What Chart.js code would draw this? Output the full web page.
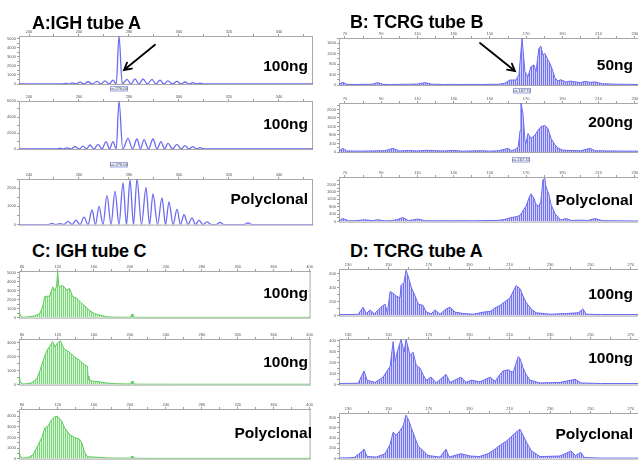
<!DOCTYPE html>
<html><head><meta charset="utf-8">
<script src="https://cdn.jsdelivr.net/npm/chart.js@4.4.1/dist/chart.umd.min.js"></script>
<style>
html,body{margin:0;padding:0;background:#fff;width:638px;height:461px;overflow:hidden;position:relative;font-family:"Liberation Sans",Arial,sans-serif;}
canvas{position:absolute;}
.t{position:absolute;font-weight:bold;white-space:nowrap;color:#000;z-index:5;}
.title{font-size:18px;line-height:18px;letter-spacing:-0.2px}
.lab{font-size:15.5px;line-height:15.5px;text-align:right;left:0}
</style></head><body>
<div class="t title" style="left:32px;top:13.8px">A:IGH tube A</div>
<div class="t title" style="left:350px;top:13.1px">B: TCRG tube B</div>
<div class="t title" style="left:32px;top:241.8px">C: IGH tube C</div>
<div class="t title" style="left:350px;top:241.8px">D: TCRG tube A</div>
<div class="t lab" style="width:308px;top:57.9px">100ng</div>
<div class="t lab" style="width:308px;top:115.9px">100ng</div>
<div class="t lab" style="width:308px;top:190.9px">Polyclonal</div>
<div class="t lab" style="width:633px;top:56.9px">50ng</div>
<div class="t lab" style="width:633px;top:113.9px">200ng</div>
<div class="t lab" style="width:633px;top:191.9px">Polyclonal</div>
<div class="t lab" style="width:308px;top:284.9px">100ng</div>
<div class="t lab" style="width:308px;top:353.9px">100ng</div>
<div class="t lab" style="width:312px;top:424.9px">Polyclonal</div>
<div class="t lab" style="width:633px;top:285.9px">100ng</div>
<div class="t lab" style="width:633px;top:349.9px">100ng</div>
<div class="t lab" style="width:633px;top:425.9px">Polyclonal</div>
<script>
// ---- Panel A: IGH tube A (size in bp, fluorescence) ----
const aTopX=[236,250,253.2,254.8,256,257.2,258.8,260.4,262,263.6,265.4,267.2,268.8,270.4,272,273.6,274.9,276,277.3,279.2,280.8,282.4,284,285.6,287.4,289.2,290.8,292.4,294,295.6,297.4,299.2,300.8,302.4,304,305.6,307,308.4,310,320,353.6];
const aTopY=[0,0,0,80,0,120,0,200,0,250,0,300,0,350,0,420,0,5300,0,500,0,560,0,550,0,500,0,420,0,350,0,280,0,220,0,150,0,90,0,0,0];
const aMidX=[236,250,251,252.4,253.8,255.2,256.8,258.4,260,261.6,263,264.4,266,267.6,269.2,270.8,272.2,273.6,274.9,276,277.5,279.6,281.4,283.2,284.6,286,287.8,289.6,291.2,292.8,294.2,295.6,297.4,299.2,300.8,302.4,304,305.6,307,308.4,310,320,353.6];
const aMidY=[0,0,0,100,0,150,0,290,0,350,0,500,0,580,0,920,0,920,0,6000,0,1330,0,1250,0,1170,0,1250,0,920,0,710,0,580,0,420,0,290,0,170,0,0,0];
const aPolyX=[236,246,247.6,249.2,250.8,252.4,254,255.6,257.2,258.8,260.4,262,263.6,265.2,266.6,268,269.6,271.2,272.8,274.4,276,277.6,279,280.4,281.8,283.2,285,286.8,288.2,289.6,291.4,293.2,294.6,296,297.6,299.2,300.6,302,303.6,305.2,306.6,308,309.6,311.2,313,314.8,316.4,318,326,327.6,329.2,353.6];
const aPolyY=[0,0,0,70,0,50,0,180,0,240,0,410,0,800,0,1000,0,1600,0,1820,0,2280,0,2450,0,2480,0,2020,0,1680,0,1460,0,1250,0,830,0,540,0,370,0,240,0,150,0,0,120,0,0,100,0,0];
// ---- Panel B: TCRG tube B ----
const bTopX=[66.7,68.9,71,75,80,85,88.2,91,95,100,105,110,114.1,118,125,130,135,140,145,150,155,158.3,161,164.3,166,167.7,169.3,171,172.6,174.3,175.4,177,178.1,179.2,180.3,182,183.1,184.8,185.9,187.5,189.2,191.9,194,196.9,200,202.4,205.2,207.9,212,220,233.9];
const bTopY=[40,100,25,20,25,30,90,25,20,25,30,35,90,30,20,25,20,25,20,25,30,70,190,190,400,1780,510,320,700,770,510,1400,1490,1150,1210,960,830,510,260,160,200,110,150,120,90,140,100,120,50,30,20];
const bMidX=[66.7,68.9,71,78,85,92,96.5,100,105,110,115,120,125,130,135,140,145,150,155,159.9,162,164,165.6,166.6,167.1,168.2,169.3,169.9,171,172.6,174.8,176.5,178.1,180.3,182,183.7,185.9,187.5,190,195,200,205.2,208,215,225,233.9];
const bMidY=[60,170,50,40,50,60,170,50,70,50,80,60,50,70,40,50,60,40,60,170,60,120,250,1000,2300,1800,560,400,870,640,790,1020,1180,1250,1100,640,330,190,90,70,60,170,60,50,40,40];
const bPolyX=[66.7,68.9,72,76,81,85,88.2,92,96,99.2,102,105,110.3,114,120,125,130,135,140,145,150,155,158.3,161,163.8,166.6,168.2,169.9,172.1,172.6,174.3,175.4,177,178.1,179.2,180.3,180.8,182.6,183.7,185.9,187.5,189.2,191.9,195,200,204,207.9,212,220,233.9];
const bPolyY=[50,165,40,50,100,50,100,40,50,120,220,50,140,50,40,50,40,50,40,50,60,70,120,200,250,330,583,830,1420,1500,1250,920,830,1080,2250,2330,1920,1420,920,420,250,80,165,60,80,60,165,50,40,30];
// ---- Panel C: IGH tube C ----
const cTopX=[76.7,78,80,83.3,88.8,94.3,99.9,103,105.4,110.9,114.2,116.4,118.5,119.7,121,121.9,125.3,129.7,133,136.3,140.7,144,147.3,151.7,155,160.6,166.1,173.8,182.6,200,201.5,202.5,203.5,210,250,300,350,401];
const cTopY=[800,300,50,50,100,200,450,1200,2360,2400,3430,3000,3500,5100,3500,3430,3600,3080,3250,2360,2190,1850,1500,1160,800,450,300,100,50,40,200,400,50,30,30,30,30,30];
const cMidX=[76.7,78,80,85,91,96.6,99.9,103.2,107.6,110.9,114.2,116.5,119.7,123,125,127.5,133,138.5,144,149.5,152.8,153.5,154.5,158.4,166.1,173.8,185,200,201.5,202.5,203.5,210,250,300,350,401];
const cMidY=[670,250,40,60,130,420,980,1650,2420,2750,3090,2700,3000,3130,2800,2530,2310,1980,1750,1420,1310,600,330,250,200,120,60,40,150,250,40,30,25,25,25,25];
const cPolyX=[76.7,78,80,86.6,92.1,97.7,102.1,105.4,108.7,113.1,116.4,119.7,124.2,127.5,133,138.5,144,147,149.5,152.8,158,166,175,200,201.5,202.5,203.5,210,250,300,350,401];
const cPolyY=[770,250,40,100,340,1250,2000,2900,3060,3670,3970,4000,3550,2900,2300,2000,1850,1400,640,180,150,120,60,40,150,250,40,30,25,25,25,25];
// ---- Panel D: TCRG tube A ----
const dTopX=[125.5,135,137.4,139,140.9,143,146.3,148.3,149.5,150.8,152.3,153.8,155.7,156.2,157.7,158.7,160.2,161.2,163.2,164.7,167.1,168.6,171.1,173.1,175.5,178.5,180.5,183,187,192,197,200.3,202.8,205.2,207.7,210.2,211.7,213.2,215.1,216.6,218.1,220.6,223.1,230,238,244,246.3,247.8,255,265,275.5];
const dTopY=[15,17,120,30,80,25,120,165,40,345,320,280,255,430,475,650,520,410,280,165,145,55,25,80,20,95,120,50,30,20,50,60,110,145,200,255,345,430,385,280,190,95,40,20,30,40,95,20,15,15,15];
const dMidX=[125.5,135,137.9,139.4,143.4,147.3,150.8,152.3,153.3,154.3,156.2,157.7,158.7,160.7,162.2,163.7,165.6,167.1,168.6,171.1,173.6,178.5,180.5,185.9,188.4,190.9,195.3,200.3,202.8,205.2,206.7,209.2,211.7,214.2,215.1,216.6,218.1,220.1,225,234.9,242.4,245.3,255,275.5];
const dMidY=[10,12,125,40,20,68,167,393,212,297,412,297,412,267,297,179,150,93,40,68,15,93,20,68,20,40,25,68,30,93,125,135,110,255,240,155,93,40,15,20,48,15,10,10];
const dPolyX=[125.5,133,136.4,137.9,139.4,144,148.3,150.8,152.3,153.8,155.7,157.2,158.7,160.2,161.2,163.2,164.7,167.1,169.6,175.5,178.5,180,185.9,190.4,195,199.3,202.8,205.7,208.2,210.7,213.2,215.1,216.6,218.1,220.6,225,234.9,240.4,242.5,245.3,247,255,275.5];
const dPolyY=[10,20,125,185,40,30,95,275,515,455,545,635,850,730,610,400,245,155,60,30,185,30,95,50,40,95,185,275,335,425,515,575,455,335,155,40,50,150,60,120,20,10,10];
// ---- axis ranges / tick labels ----
const xRangeA=[236,353.6], xRangeB=[66.7,233.9], xRangeC=[76.7,401], xRangeD=[125.5,275.5];
const xTickLabelsA=[240,260,280,300,320,340];
const xTickLabelsB=[70,90,110,130,150,170,190,210,230];
const xTickLabelsC=[80,120,160,200,240,280,320,360,400];
const xTickLabelsD=[130,150,170,190,210,230,250,270];
const yTicksA1=[0,1000,2000,3000,4000,5000], yTicksA2=[0,2000,4000,6000], yTicksA3=[0,1000,2000];
const yTicksB1=[0,400,800,1200,1600], yTicksB2=[0,400,800,1200,1600,2000], yTicksB3=[0,400,800,1200,1600,2000];
const yTicksC1=[0,1000,2000,3000,4000,5000], yTicksC2=[0,1000,2000,3000], yTicksC3=[0,1000,2000,3000,4000];
const yTicksD1=[0,200,400,600], yTicksD2=[0,100,200,300,400], yTicksD3=[0,200,400,600,800];
// peak size-call boxes and arrows
const peakCallX=[276,276,167.7,167.1];
const peakCallText=["276.04","276.04","167.72","167.15"];
const arrowA=[290.4,4330,278,1550]; // tail x,y -> tip x,y
const arrowB=[144.5,1610,163.8,536];

const BLUE='#6c6cf0', GREEN='#5ccc5c';
function stripes(c1,c2,w){
  const pc=document.createElement('canvas');pc.width=w;pc.height=4;
  const g=pc.getContext('2d');g.fillStyle=c2;g.fillRect(0,0,w,4);g.fillStyle=c1;g.fillRect(0,0,1,4);
  return g.createPattern(pc,'repeat');
}
const BLUEF=stripes('rgba(100,100,238,0.85)','rgba(150,150,246,0.45)',2);
const GREENF=stripes('rgba(95,205,95,0.8)','rgba(175,235,175,0.45)',2);

const extras={
  id:'extras',
  beforeDatasetsDraw(chart){
    const a=chart.chartArea, c=chart.ctx;
    c.save();c.strokeStyle='#a8a8a8';c.lineWidth=1;
    c.strokeRect(a.left+0.5,a.top+0.5,a.right-a.left-1,a.bottom-a.top);
    c.restore();
  },
  afterDraw(chart){
    const o=chart.options.plugins.extras||{}, c=chart.ctx, xs=chart.scales.x, ys=chart.scales.y, a=chart.chartArea;
    if(o.box){
      const px=xs.getPixelForValue(o.box.x), y=a.bottom+o.box.off;
      c.save();c.fillStyle='#eef1fb';c.strokeStyle='#8c9ad6';c.lineWidth=0.8;
      c.fillRect(px-9,y,18,5.5);c.strokeRect(px-9+0.5,y+0.5,17,4.5);
      c.fillStyle='#445';c.font='4px "Liberation Sans",Arial';c.textAlign='center';c.textBaseline='middle';
      c.fillText('ca '+o.box.t,px,y+3);c.restore();
    }
    if(o.arrow){
      const [tx,ty,hx,hy]=o.arrow;
      const x1=xs.getPixelForValue(tx),y1=ys.getPixelForValue(ty),x2=xs.getPixelForValue(hx),y2=ys.getPixelForValue(hy);
      const ang=Math.atan2(y2-y1,x2-x1),L=8,w=0.5;
      c.save();c.strokeStyle='#000';c.lineWidth=1.8;c.lineCap='round';
      c.beginPath();c.moveTo(x1,y1);c.lineTo(x2,y2);
      c.moveTo(x2-L*Math.cos(ang-w),y2-L*Math.sin(ang-w));c.lineTo(x2,y2);c.lineTo(x2-L*Math.cos(ang+w),y2-L*Math.sin(ang+w));
      c.stroke();c.restore();
    }
  }
};

function withHalves(labels,lo,hi){
  const st=labels[1]-labels[0], out=[];
  labels.forEach(v=>{out.push(v); if(v+st/2<=hi) out.push(v+st/2);});
  if(labels[0]-st/2>=lo) out.unshift(labels[0]-st/2);
  return out;
}

function panel(p){
  const [l,t,r,b]=p.plot, yw=16, xh=8, pad=p.pad||0;
  const cv=document.createElement('canvas');
  const left=l-yw, top=t-xh, W=r-left, H=b-top+pad;
  cv.width=W;cv.height=H;cv.style.left=left+'px';cv.style.top=top+'px';
  document.body.appendChild(cv);
  const lineC=p.green?GREEN:BLUE, fillC=p.green?GREENF:BLUEF;
  const xT=withHalves(p.xl,p.xr[0],p.xr[1]);
  const yT=withHalves(p.yt,0,p.ymax);
  new Chart(cv,{
    type:'line',
    data:{datasets:[{data:p.x.map((v,i)=>({x:v,y:p.y[i]})),borderColor:lineC,backgroundColor:fillC,
      borderWidth:p.fill?1:1.3,fill:p.fill?'origin':false,pointRadius:0,tension:0,
      cubicInterpolationMode:p.fill?'default':'monotone'}]},
    options:{responsive:false,animation:false,events:[],
      layout:{padding:{left:0,right:0,top:0,bottom:pad}},
      plugins:{legend:{display:false},tooltip:{enabled:false},extras:{box:p.box,arrow:p.arrow}},
      scales:{
        x:{type:'linear',position:'top',min:p.xr[0],max:p.xr[1],
          afterFit(s){s.height=xh;},
          afterBuildTicks(s){s.ticks=xT.map(v=>({value:v}));},
          border:{display:true,color:'#9c9c9c'},
          grid:{drawOnChartArea:false,drawTicks:true,tickLength:2,color:'#9c9c9c'},
          ticks:{autoSkip:false,maxRotation:0,padding:0,font:{size:4},color:'#555',
            callback:v=>p.xl.includes(v)?String(v):''}},
        y:{type:'linear',position:'left',min:0,max:p.ymax,
          afterFit(s){s.width=yw;},
          afterBuildTicks(s){s.ticks=yT.map(v=>({value:v}));},
          border:{display:true,color:'#9c9c9c'},
          grid:{drawOnChartArea:false,drawTicks:true,tickLength:2,color:'#9c9c9c'},
          ticks:{autoSkip:false,padding:1,font:{size:4},color:'#555',
            callback:v=>p.yt.includes(v)?String(v):''}}
      }},
    plugins:[extras]
  });
}

panel({plot:[19,36,313,84],x:aTopX,y:aTopY,xr:xRangeA,xl:xTickLabelsA,ymax:5300,yt:yTicksA1,pad:8,box:{x:peakCallX[0],t:peakCallText[0],off:2},arrow:arrowA});
panel({plot:[19,101,313,149],x:aMidX,y:aMidY,xr:xRangeA,xl:xTickLabelsA,ymax:6000,yt:yTicksA2,pad:20,box:{x:peakCallX[1],t:peakCallText[1],off:13}});
panel({plot:[19,179,313,228],x:aPolyX,y:aPolyY,xr:xRangeA,xl:xTickLabelsA,ymax:2500,yt:yTicksA3});
panel({plot:[339,38,642,85],x:bTopX,y:bTopY,xr:xRangeB,xl:xTickLabelsB,ymax:1800,yt:yTicksB1,fill:true,pad:9,box:{x:peakCallX[2],t:peakCallText[2],off:3},arrow:arrowB});
panel({plot:[339,103,642,152],x:bMidX,y:bMidY,xr:xRangeB,xl:xTickLabelsB,ymax:2300,yt:yTicksB2,fill:true,pad:12,box:{x:peakCallX[3],t:peakCallText[3],off:5}});
panel({plot:[339,177,642,225],x:bPolyX,y:bPolyY,xr:xRangeB,xl:xTickLabelsB,ymax:2400,yt:yTicksB3,fill:true});
panel({plot:[19,271,313,321],x:cTopX,y:cTopY,xr:xRangeC,xl:xTickLabelsC,ymax:5200,yt:yTicksC1,fill:true,green:true});
panel({plot:[19,339,313,388],x:cMidX,y:cMidY,xr:xRangeC,xl:xTickLabelsC,ymax:3270,yt:yTicksC2,fill:true,green:true});
panel({plot:[19,409,313,462],x:cPolyX,y:cPolyY,xr:xRangeC,xl:xTickLabelsC,ymax:4700,yt:yTicksC3,fill:true,green:true});
panel({plot:[339,269,642,319],x:dTopX,y:dTopY,xr:xRangeD,xl:xTickLabelsD,ymax:667,yt:yTicksD1,fill:true});
panel({plot:[339,339,642,388],x:dMidX,y:dMidY,xr:xRangeD,xl:xTickLabelsD,ymax:417,yt:yTicksD2,fill:true});
panel({plot:[339,413,642,462],x:dPolyX,y:dPolyY,xr:xRangeD,xl:xTickLabelsD,ymax:890,yt:yTicksD3,fill:true});
</script>
</body></html>
